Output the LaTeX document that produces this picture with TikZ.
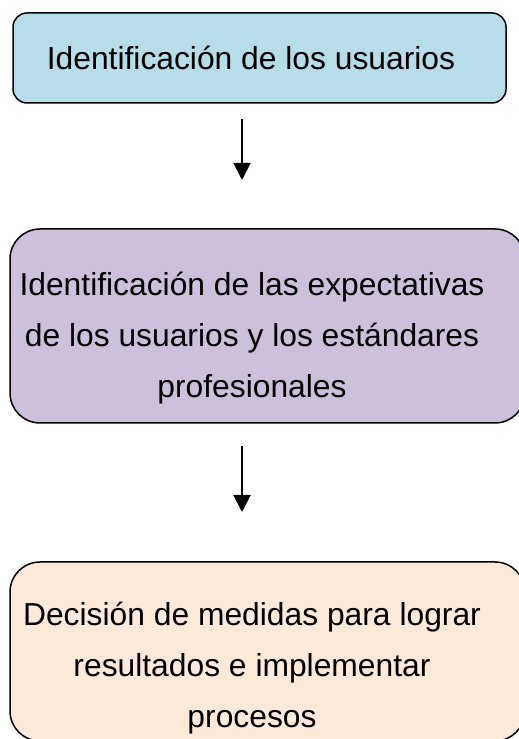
\documentclass[tikz,border=0pt]{standalone}
\usepackage{fontspec}
\setmainfont{Liberation Sans}
\usepackage{xcolor}
\definecolor{UserBlue}{HTML}{B7DEE8}
\definecolor{ExpectLilac}{HTML}{CCC0DA}
\definecolor{ActionPeach}{HTML}{FDE9D9}
\usetikzlibrary{arrows.meta, positioning}

\begin{document}
\begin{tikzpicture}[
  x=1pt, y=1pt,
  phase/.style={rectangle, draw=black, line width=1.5pt, inner sep=0pt},
  phasetext/.style={font=\fontsize{31.8}{51}\selectfont, align=center, inner sep=0pt},
  arrow/.style={-{Triangle[width=17pt,length=17pt]}, line width=2pt, black}
]
  \useasboundingbox (0,0) rectangle (519,739);

  % boxes
  \node[phase, rounded corners=14pt, fill=UserBlue, minimum width=493pt, minimum height=90pt] (s1) at (259.5,681) {};
  \node[phase, rounded corners=30pt, fill=ExpectLilac, minimum width=515pt, minimum height=194pt] (s2) at (267.5,413) {};
  \node[phase, rounded corners=30pt, fill=ActionPeach, minimum width=515pt, minimum height=179pt] (s3) at (267.5,87.5) {};

  % texts
  \node[phasetext, anchor=base] (t1) at (251,669) {Identificación de los usuarios};
  \node[phasetext] (t2) at (252,401) {Identificación de las expectativas\\de los usuarios y los estándares\\profesionales};
  \node[phasetext] (t3) at (252,71) {Decisión de medidas para lograr\\resultados e implementar\\procesos};

  % arrows
  \coordinate (a1) at (242,620);
  \coordinate (b1) at (242,559);
  \coordinate (a2) at (242,293);
  \coordinate (b2) at (242,227);
  \draw[arrow] (a1) -- (b1);
  \draw[arrow] (a2) -- (b2);
\end{tikzpicture}
\end{document}
